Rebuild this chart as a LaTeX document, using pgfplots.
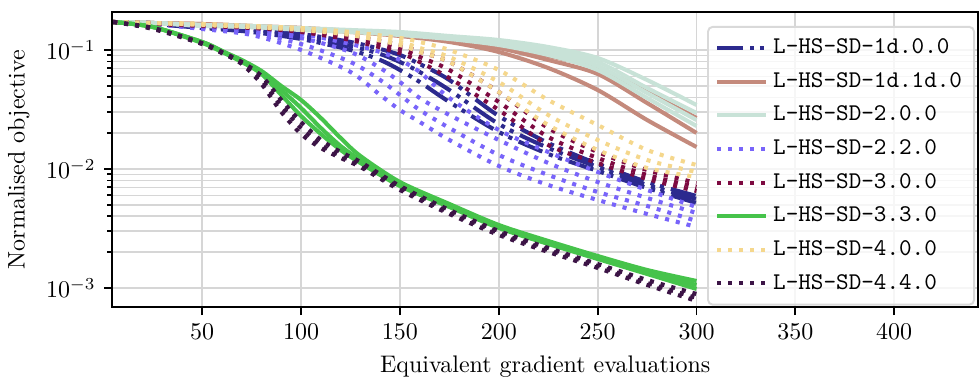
\documentclass[border=0pt]{standalone}
\usepackage{pgfplots}
\usepackage{pgfplotstable}
\pgfplotsset{compat=1.18}
\definecolor{cA}{RGB}{44,42,142}
\definecolor{cB}{RGB}{196,138,124}
\definecolor{cC}{RGB}{200,226,215}
\definecolor{cD}{RGB}{120,100,250}
\definecolor{cE}{RGB}{125,10,65}
\definecolor{cF}{RGB}{70,195,75}
\definecolor{cG}{RGB}{245,215,140}
\definecolor{cH}{RGB}{60,20,70}
\tikzset{
  dotpat/.style={dash pattern=on 1.7pt off 2.9pt},
  ddpat/.style={dash pattern=on 10.7pt off 3pt on 1.7pt off 2.4pt on 1.7pt off 3pt},
}
% 1d.0.0
\pgfplotstableread{
x r1 r2 r3
5 0.17192 0.17192 0.17192
25 0.16862 0.16539 0.16539
50 0.15910 0.15606 0.15307
75 0.15013 0.14726 0.14167
100 0.13629 0.13111 0.12372
125 0.11674 0.10805 0.1
140 0.10195 0.092553 0.082409
150 0.090779 0.079281 0.067909
160 0.076272 0.065331 0.053835
175 0.055959 0.046117 0.036561
200 0.027884 0.023885 0.020460
225 0.016537 0.015013 0.013367
250 0.011015 0.010394 0.0096204
275 0.0077762 0.0073373 0.0069235
300 0.0059304 0.0055959 0.0051792
}\tblA
% 1d.1d.0
\pgfplotstableread{
x r1 r2 r3
5 0.17192 0.17192 0.17192
25 0.16862 0.16862 0.16862
50 0.16539 0.16539 0.16222
75 0.15910 0.15910 0.15606
100 0.15307 0.15307 0.15013
125 0.14444 0.14444 0.14167
150 0.13629 0.13367 0.13111
175 0.12372 0.12135 0.11674
200 0.10805 0.10395 0.096204
225 0.089040 0.082409 0.070588
250 0.070588 0.062852 0.046117
275 0.044366 0.035861 0.025808
300 0.026826 0.020068 0.015306
}\tblB
% 2.0.0
\pgfplotstableread{
x r1 r2 r3 r4
5 0.17192 0.17192 0.17192 0.17192
25 0.16862 0.16862 0.16862 0.16862
50 0.16222 0.16222 0.16222 0.15910
75 0.15910 0.15910 0.15606 0.15606
100 0.15307 0.15013 0.15013 0.14726
125 0.14726 0.14444 0.14444 0.14167
150 0.14167 0.13895 0.13629 0.13367
175 0.13111 0.12860 0.12613 0.12372
200 0.12135 0.11674 0.11450 0.11016
225 0.10598 0.1 0.096204 0.090779
250 0.085660 0.079281 0.073373 0.067909
275 0.055959 0.047937 0.043516 0.039503
300 0.034500 0.029551 0.025808 0.022979
}\tblC
% 2.2.0
\pgfplotstableread{
x r1 r2 r3 r4
5 0.17192 0.17192 0.17192 0.17192
25 0.16862 0.16539 0.16539 0.16539
50 0.15910 0.15606 0.15307 0.15013
75 0.15013 0.14444 0.13895 0.13367
100 0.13629 0.12613 0.11231 0.1
125 0.11231 0.096204 0.079281 0.065331
140 0.096204 0.070588 0.055959 0.041864
150 0.082409 0.053835 0.041864 0.031317
160 0.065331 0.039503 0.031317 0.024828
175 0.039503 0.028429 0.022107 0.017526
200 0.021268 0.017526 0.013111 0.010597
225 0.013895 0.011231 0.0089040 0.0073373
250 0.0094361 0.0077762 0.0064079 0.0054887
275 0.0066608 0.0057053 0.0048873 0.0041864
300 0.0047937 0.0042682 0.0036561 0.0032552
}\tblD
% 3.0.0
\pgfplotstableread{
x r1 r2 r3
5 0.17192 0.17192 0.17192
25 0.16862 0.16862 0.16539
50 0.16222 0.16222 0.15910
75 0.15606 0.15606 0.15307
100 0.14726 0.14444 0.14167
125 0.13111 0.12613 0.12135
150 0.11016 0.10195 0.094361
160 0.096204 0.087334 0.079281
175 0.079281 0.067909 0.058167
200 0.044366 0.036561 0.031317
225 0.022107 0.018573 0.015910
250 0.013895 0.012372 0.011231
275 0.0098084 0.0089040 0.0082409
300 0.0076272 0.0070588 0.0065331
}\tblE
% 3.3.0
\pgfplotstableread{
x r1 r2 r3
5 0.17192 0.17192 0.17192
25 0.15606 0.15606 0.15606
50 0.11674 0.11674 0.11450
60 0.098084 0.098084 0.096204
70 0.082409 0.080830 0.079281
80 0.066608 0.065331 0.062852
90 0.049828 0.046117 0.041864
100 0.038004 0.032552 0.027884
110 0.026826 0.022107 0.019684
120 0.018217 0.015605 0.014443
130 0.012860 0.011902 0.011231
150 0.0077762 0.0074810 0.0071967
175 0.0050799 0.0048873 0.0047937
200 0.0033837 0.0032552 0.0031929
225 0.0024828 0.0023885 0.0023428
250 0.0018573 0.0017868 0.0017526
275 0.0014166 0.0013628 0.0013111
300 0.0011450 0.0010597 0.00098084
}\tblF
% 4.0.0
\pgfplotstableread{
x r1 r2 r3
5 0.17192 0.17192 0.17192
25 0.16862 0.16862 0.16862
50 0.16539 0.16539 0.16222
75 0.15910 0.15910 0.15606
100 0.15307 0.15013 0.14726
125 0.14167 0.13629 0.13367
150 0.12613 0.11674 0.11016
160 0.11674 0.10395 0.096204
175 0.1 0.087334 0.079281
200 0.067909 0.053835 0.044366
225 0.038004 0.028429 0.023428
250 0.023428 0.017526 0.014443
275 0.014443 0.011902 0.010195
300 0.010804 0.0094361 0.0085660
}\tblG
% 4.4.0
\pgfplotstableread{
x r1 r2 r3
5 0.17192 0.17192 0.17192
25 0.15307 0.15307 0.15013
50 0.11450 0.11231 0.11231
60 0.096204 0.094361 0.094361
70 0.079281 0.077762 0.076272
80 0.060462 0.055959 0.051792
90 0.038004 0.033837 0.030128
100 0.024828 0.022107 0.019684
110 0.017526 0.015910 0.015013
120 0.013895 0.012860 0.012372
130 0.011450 0.010804 0.010394
150 0.0071967 0.0069235 0.0066608
175 0.0045233 0.0043516 0.0041864
200 0.0030128 0.0028985 0.0027884
225 0.0021683 0.0020860 0.0020068
250 0.0015910 0.0015306 0.0014725
275 0.0011674 0.0011015 0.0010597
300 0.00089040 0.00082409 0.00077762
}\tblH
\begin{document}
\begin{tikzpicture}
\begin{axis}[
  scale only axis, width=361pt, height=123pt,
  ymode=log,
  xmin=4.55, xmax=442.4, ymin=0.00069235, ymax=0.20861,
  xtick={50,100,...,400},
  ytick={1e-3,1e-2,1e-1},
  grid=both,
  major grid style={draw=black!16, line width=0.8pt},
  minor grid style={draw=black!16, line width=0.7pt},
  tick align=outside, tick pos=left,
  major tick length=3.4pt, minor tick length=2.1pt,
  every tick/.style={black, line width=0.8pt},
  axis line style={black, line width=0.8pt},
  xlabel={Equivalent gradient evaluations},
  ylabel={Normalised objective},
  legend image code/.code={\draw[#1] (0pt,0pt) -- (20.5pt,0pt);},
  legend cell align=left,
  legend style={at={(0.9965,0.953)}, anchor=north east, font=\ttfamily,
    draw=black!15, fill=white, fill opacity=0.8, text opacity=1,
    rounded corners=2pt, line width=0.8pt, row sep=2.3pt,
    inner xsep=3pt, inner ysep=3pt},
  every axis plot/.append style={smooth, line width=1.7pt},
]
\addplot[cA, ddpat] table[x=x,y=r1]{\tblA}; \addlegendentry{L-HS-SD-1d.0.0}
\addplot[cA, ddpat, forget plot] table[x=x,y=r2]{\tblA};
\addplot[cA, ddpat, forget plot] table[x=x,y=r3]{\tblA};
\addplot[cB] table[x=x,y=r1]{\tblB}; \addlegendentry{L-HS-SD-1d.1d.0}
\addplot[cB, forget plot] table[x=x,y=r2]{\tblB};
\addplot[cB, forget plot] table[x=x,y=r3]{\tblB};
\addplot[cC] table[x=x,y=r1]{\tblC}; \addlegendentry{L-HS-SD-2.0.0}
\addplot[cC, forget plot] table[x=x,y=r2]{\tblC};
\addplot[cC, forget plot] table[x=x,y=r3]{\tblC};
\addplot[cC, forget plot] table[x=x,y=r4]{\tblC};
\addplot[cD, dotpat] table[x=x,y=r1]{\tblD}; \addlegendentry{L-HS-SD-2.2.0}
\addplot[cD, dotpat, forget plot] table[x=x,y=r2]{\tblD};
\addplot[cD, dotpat, forget plot] table[x=x,y=r3]{\tblD};
\addplot[cD, dotpat, forget plot] table[x=x,y=r4]{\tblD};
\addplot[cE, dotpat] table[x=x,y=r1]{\tblE}; \addlegendentry{L-HS-SD-3.0.0}
\addplot[cE, dotpat, forget plot] table[x=x,y=r2]{\tblE};
\addplot[cE, dotpat, forget plot] table[x=x,y=r3]{\tblE};
\addplot[cF] table[x=x,y=r1]{\tblF}; \addlegendentry{L-HS-SD-3.3.0}
\addplot[cF, forget plot] table[x=x,y=r2]{\tblF};
\addplot[cF, forget plot] table[x=x,y=r3]{\tblF};
\addplot[cG, dotpat] table[x=x,y=r1]{\tblG}; \addlegendentry{L-HS-SD-4.0.0}
\addplot[cG, dotpat, forget plot] table[x=x,y=r2]{\tblG};
\addplot[cG, dotpat, forget plot] table[x=x,y=r3]{\tblG};
\addplot[cH, dotpat] table[x=x,y=r1]{\tblH}; \addlegendentry{L-HS-SD-4.4.0}
\addplot[cH, dotpat, forget plot] table[x=x,y=r2]{\tblH};
\addplot[cH, dotpat, forget plot] table[x=x,y=r3]{\tblH};
\end{axis}
\path ([yshift=5pt]current axis.north);
\end{tikzpicture}
\end{document}
